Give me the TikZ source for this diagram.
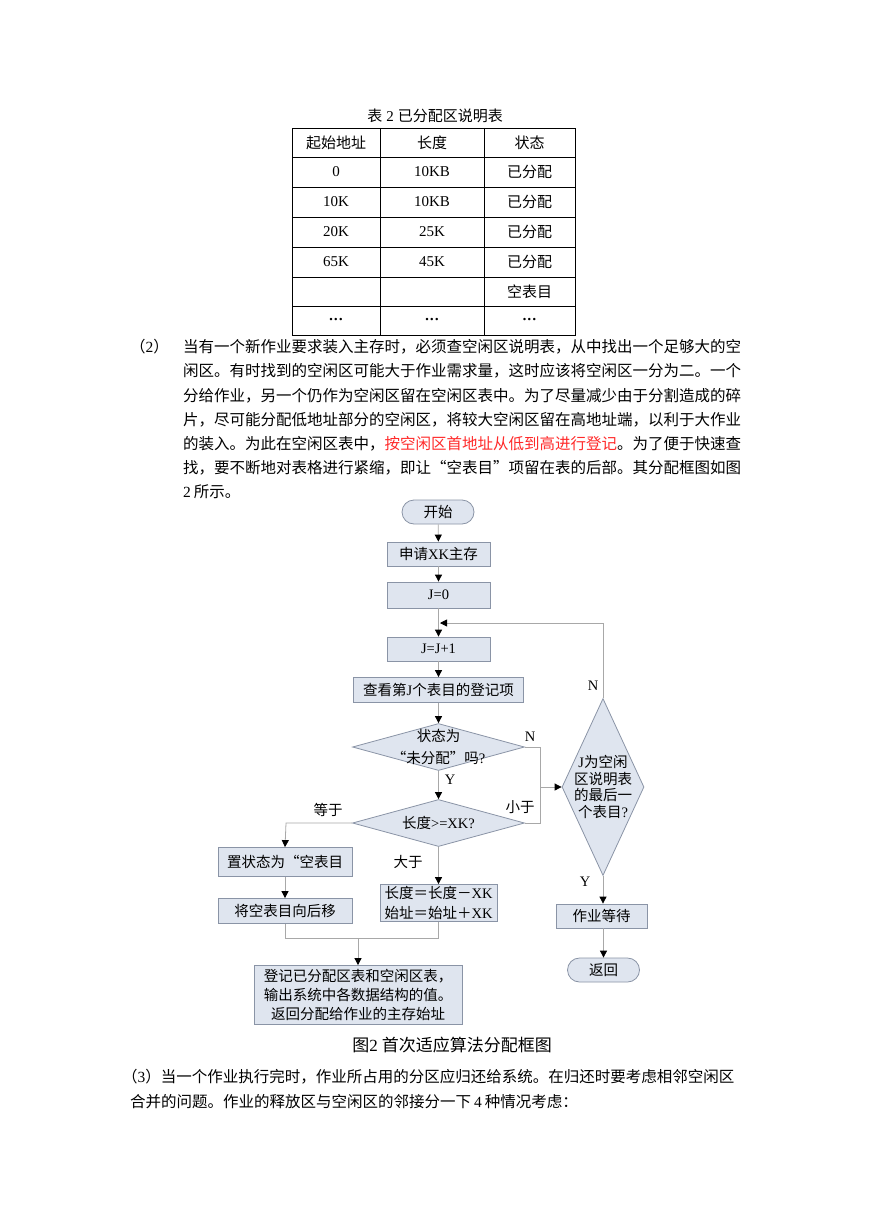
\documentclass[tikz,border=0pt]{standalone}
\usepackage{fontspec}
\setmainfont{Noto Sans CJK SC}
\newfontfamily\lat{Liberation Serif}
\usetikzlibrary{arrows.meta,shapes.geometric}
\definecolor{boxfill}{HTML}{DFE5EF}
\definecolor{boxdraw}{HTML}{8A94A6}
\definecolor{linegray}{HTML}{A8A8A8}
\definecolor{redtext}{HTML}{FF2A2A}
\begin{document}
\begin{tikzpicture}[x=1pt,y=-1pt,
  bodytxt/.style={inner sep=0pt, anchor=west, font=\fontsize{15.5pt}{24pt}\selectfont},
  tcell/.style={inner sep=0pt, font=\fontsize{15pt}{18pt}\selectfont},
  pbox/.style={draw=boxdraw, fill=boxfill, line width=0.8pt, inner sep=0pt, font=\fontsize{14.5pt}{17pt}\selectfont},
  term/.style={pbox, rounded corners=12pt},
  dia/.style={draw=boxdraw, fill=boxfill, line width=0.8pt, diamond, inner sep=0pt},
  lbl/.style={inner sep=0pt, font=\fontsize{14.5pt}{17pt}\selectfont},
  conn/.style={draw=linegray, line width=0.8pt},
  arr/.style={conn, -{Triangle[length=7pt,width=7pt,color=black]}},
]
\useasboundingbox[fill=white] (0,0) rectangle (869,1228);

% ---------- table ----------
\node[tcell] (tcap) at (435,116) {表\hspace{4pt}{\lat 2}\hspace{4pt}已分配区说明表};
\draw[line width=0.8pt] (292,128) rectangle (575,335);
\foreach \yy in {157,187,217,247,277,306}
  \draw[line width=0.8pt] (292,\yy) -- (575,\yy);
\draw[line width=0.8pt] (380,128) -- (380,335);
\draw[line width=0.8pt] (484,128) -- (484,335);
\node[tcell] (h1) at (336,142.5) {起始地址};
\node[tcell] (h2) at (432,142.5) {长度};
\node[tcell] (h3) at (529.5,142.5) {状态};
\node[tcell] (r1a) at (336,172) {\lat 0};
\node[tcell] (r1b) at (432,172) {\lat 10KB};
\node[tcell] (r1c) at (529.5,172) {已分配};
\node[tcell] (r2a) at (336,202) {\lat 10K};
\node[tcell] (r2b) at (432,202) {\lat 10KB};
\node[tcell] (r2c) at (529.5,202) {已分配};
\node[tcell] (r3a) at (336,232) {\lat 20K};
\node[tcell] (r3b) at (432,232) {\lat 25K};
\node[tcell] (r3c) at (529.5,232) {已分配};
\node[tcell] (r4a) at (336,262) {\lat 65K};
\node[tcell] (r4b) at (432,262) {\lat 45K};
\node[tcell] (r4c) at (529.5,262) {已分配};
\node[tcell] (r5c) at (529.5,291.5) {空表目};
\node[tcell] (r6a) at (336,321) {\lat\bfseries ···};
\node[tcell] (r6b) at (432,321) {\lat\bfseries ···};
\node[tcell] (r6c) at (529.5,321) {\lat\bfseries ···};

% ---------- paragraph (2) ----------
\node[bodytxt] (p0) at (130,347) {（{\lat 2}）};
\node[bodytxt] (p1) at (183,347) {当有一个新作业要求装入主存时，必须查空闲区说明表，从中找出一个足够大的空};
\node[bodytxt] (p2) at (183,371.2) {闲区。有时找到的空闲区可能大于作业需求量，这时应该将空闲区一分为二。一个};
\node[bodytxt] (p3) at (183,395.4) {分给作业，另一个仍作为空闲区留在空闲区表中。为了尽量减少由于分割造成的碎};
\node[bodytxt] (p4) at (183,419.6) {片，尽可能分配低地址部分的空闲区，将较大空闲区留在高地址端，以利于大作业};
\node[bodytxt] (p5) at (183,443.8) {的装入。为此在空闲区表中，\textcolor{redtext}{按空闲区首地址从低到高进行登记}。为了便于快速查};
\node[bodytxt] (p6) at (183,468) {找，要不断地对表格进行紧缩，即让“空表目”项留在表的后部。其分配框图如图};
\node[bodytxt] (p7) at (183,492.2) {{\lat 2\hspace{3pt}}所示。};

% ---------- flowchart ----------
\node[term, minimum width=72pt, minimum height=24pt] (start) at (438,512) {开始};
\node[pbox, minimum width=103pt, minimum height=24pt] (apply) at (438.5,554) {申请{\lat XK}主存};
\node[pbox, minimum width=103pt, minimum height=26pt] (j0) at (438.5,595) {\lat J=0};
\coordinate (join) at (438.5,623);
\node[pbox, minimum width=103pt, minimum height=24pt] (jinc) at (438.5,649) {\lat J=J+1};
\node[pbox, minimum width=170pt, minimum height=25pt] (look) at (438.5,690) {查看第{\lat J}个表目的登记项};
\node[dia, minimum width=172pt, minimum height=47pt] (d1) at (438.5,747) {};
\node[lbl, align=center, font=\fontsize{14.5pt}{22pt}\selectfont] (d1t) at (d1.center) {状态为\\“未分配”吗{\lat ?}};
\node[dia, minimum width=172pt, minimum height=47pt] (d2) at (438.5,823) {};
\node[lbl] (d2t) at (d2.center) {长度{\lat >=XK?}};
\node[pbox, minimum width=134pt, minimum height=29pt] (setst) at (285,862) {置状态为“空表目};
\node[pbox, minimum width=134pt, minimum height=25pt] (move) at (285,911) {将空表目向后移};
\node[pbox, minimum width=117pt, minimum height=37pt, align=left, font=\fontsize{14.5pt}{20pt}\selectfont] (upd) at (438.5,903) {长度＝长度－{\lat XK}\\始址＝始址＋{\lat XK}};
\node[pbox, minimum width=208pt, minimum height=59pt, align=center, font=\fontsize{14.5pt}{19pt}\selectfont] (reg) at (358,995) {登记已分配区表和空闲区表，\\输出系统中各数据结构的值。\\返回分配给作业的主存始址};
\node[dia, minimum width=82pt, minimum height=177pt] (d3) at (603,787) {};
\node[lbl, align=center, font=\fontsize{14.5pt}{16.7pt}\selectfont] (d3t) at (d3.center) {{\lat J}为空闲\\区说明表\\的最后一\\个表目{\lat ?}};
\node[pbox, minimum width=91pt, minimum height=24pt] (wait) at (601.5,916) {作业等待};
\node[term, minimum width=72pt, minimum height=24pt] (ret) at (603.5,970) {返回};

\coordinate (c1) at (540,747);
\coordinate (c2) at (540,823);
\coordinate (c3) at (540,787);
\coordinate (c4) at (286,823);
\coordinate (m1) at (285,938);
\coordinate (m2) at (438.5,938);
\coordinate (m3) at (358,938);
\coordinate (loop) at (603,623);

\draw[arr] (start) -- (apply);
\draw[arr] (apply) -- (j0);
\draw[conn] (j0.south) -- (join);
\draw[arr] (join) -- (jinc.north);
\draw[arr] (jinc) -- (look);
\draw[arr] (look) -- (d1.north);
\draw[arr] (d1.south) -- (d2.north);
\draw[conn] (d1.east) -- (c1) -- (c2) -- (d2.east);
\draw[arr] (c3) -- (d3.west);
\draw[arr] (d2.west) -- (c4) -- (setst.north);
\draw[arr] (d2.south) -- (upd.north);
\draw[arr] (setst) -- (move);
\draw[conn] (move.south) -- (m1) -- (m2) -- (upd.south);
\draw[arr] (m3) -- (reg.north);
\draw[arr] (d3.south) -- (d3.south |- wait.north);
\draw[arr] (wait.south -| ret.north) -- (ret.north);
\draw[arr, shorten >=1.5pt] (d3.north) -- (loop) -- (join);

\node[lbl] (lN1) at (530,737) {\lat N};
\node[lbl] (lY1) at (450,780) {\lat Y};
\node[lbl] (lE) at (328,810) {等于};
\node[lbl] (lL) at (520,807) {小于};
\node[lbl] (lG) at (408,862) {大于};
\node[lbl] (lN2) at (593,686) {\lat N};
\node[lbl] (lY2) at (585,882) {\lat Y};

\node[inner sep=0pt, font=\fontsize{17pt}{20pt}\selectfont] (cap) at (452,1045) {图{\lat 2}\hspace{4pt}首次适应算法分配框图};

% ---------- paragraph (3) ----------
\node[bodytxt] (q1) at (122,1077) {（{\lat 3}）当一个作业执行完时，作业所占用的分区应归还给系统。在归还时要考虑相邻空闲区};
\node[bodytxt] (q2) at (130,1102) {合并的问题。作业的释放区与空闲区的邻接分一下{\lat\hspace{3pt}4\hspace{3pt}}种情况考虑：};
\end{tikzpicture}
\end{document}
